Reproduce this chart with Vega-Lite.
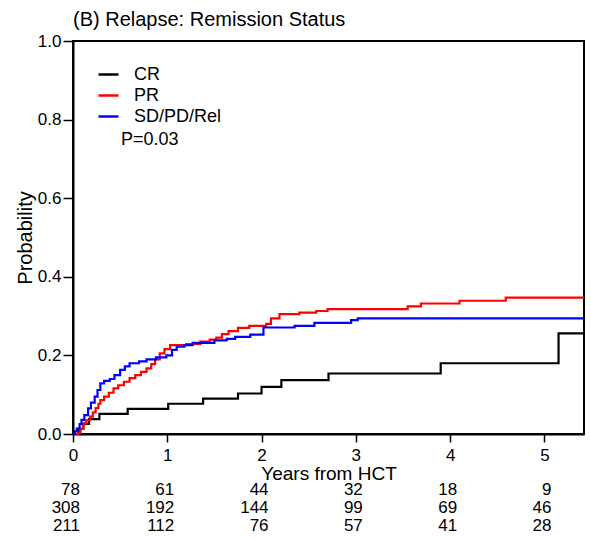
{
  "$schema": "https://vega.github.io/schema/vega-lite/v6.json",
  "width": 511,
  "height": 393,
  "autosize": {"type": "none"},
  "padding": {"left": 73, "top": 41, "right": 7, "bottom": 105},
  "background": "white",
  "config": {
    "font": "Liberation Sans",
    "view": {"stroke": "black", "strokeWidth": 2},
    "axis": {"grid": false, "domainColor": "black", "domainWidth": 2, "tickColor": "black", "tickWidth": 1.5, "labelColor": "black", "titleColor": "black", "titleFontWeight": "normal", "labelFlush": false, "labelFont": "Liberation Sans", "titleFont": "Liberation Sans"}
  },
  "title": {"text": "(B) Relapse: Remission Status", "anchor": "start", "frame": "group", "fontSize": 20, "fontWeight": "normal", "color": "black", "offset": 2, "font": "Liberation Sans"},
  "datasets": {
    "curves": [
      {"status": "CR", "time": 0, "prob": 0},
      {"status": "CR", "time": 0.06, "prob": 0.013},
      {"status": "CR", "time": 0.11, "prob": 0.026},
      {"status": "CR", "time": 0.17, "prob": 0.038},
      {"status": "CR", "time": 0.28, "prob": 0.051},
      {"status": "CR", "time": 0.58, "prob": 0.064},
      {"status": "CR", "time": 1.01, "prob": 0.077},
      {"status": "CR", "time": 1.38, "prob": 0.09},
      {"status": "CR", "time": 1.75, "prob": 0.103},
      {"status": "CR", "time": 2.0, "prob": 0.12},
      {"status": "CR", "time": 2.21, "prob": 0.137},
      {"status": "CR", "time": 2.71, "prob": 0.154},
      {"status": "CR", "time": 3.9, "prob": 0.18},
      {"status": "CR", "time": 5.15, "prob": 0.256},
      {"status": "CR", "time": 5.42, "prob": 0.256},
      {"status": "PR", "time": 0, "prob": 0},
      {"status": "PR", "time": 0.05, "prob": 0.003},
      {"status": "PR", "time": 0.08, "prob": 0.013},
      {"status": "PR", "time": 0.11, "prob": 0.027},
      {"status": "PR", "time": 0.14, "prob": 0.035},
      {"status": "PR", "time": 0.18, "prob": 0.044},
      {"status": "PR", "time": 0.21, "prob": 0.055},
      {"status": "PR", "time": 0.24, "prob": 0.066},
      {"status": "PR", "time": 0.27, "prob": 0.077},
      {"status": "PR", "time": 0.29, "prob": 0.086},
      {"status": "PR", "time": 0.33, "prob": 0.095},
      {"status": "PR", "time": 0.38, "prob": 0.105},
      {"status": "PR", "time": 0.43, "prob": 0.116},
      {"status": "PR", "time": 0.48, "prob": 0.124},
      {"status": "PR", "time": 0.54, "prob": 0.133},
      {"status": "PR", "time": 0.6, "prob": 0.142},
      {"status": "PR", "time": 0.66, "prob": 0.15},
      {"status": "PR", "time": 0.72, "prob": 0.158},
      {"status": "PR", "time": 0.78, "prob": 0.167},
      {"status": "PR", "time": 0.83, "prob": 0.178},
      {"status": "PR", "time": 0.87, "prob": 0.19},
      {"status": "PR", "time": 0.92, "prob": 0.205},
      {"status": "PR", "time": 0.97, "prob": 0.216},
      {"status": "PR", "time": 1.03, "prob": 0.226},
      {"status": "PR", "time": 1.2, "prob": 0.229},
      {"status": "PR", "time": 1.35, "prob": 0.235},
      {"status": "PR", "time": 1.45, "prob": 0.24},
      {"status": "PR", "time": 1.52, "prob": 0.245},
      {"status": "PR", "time": 1.58, "prob": 0.254},
      {"status": "PR", "time": 1.65, "prob": 0.262},
      {"status": "PR", "time": 1.75, "prob": 0.27},
      {"status": "PR", "time": 1.87, "prob": 0.275},
      {"status": "PR", "time": 2.05, "prob": 0.28},
      {"status": "PR", "time": 2.1, "prob": 0.294},
      {"status": "PR", "time": 2.19, "prob": 0.305},
      {"status": "PR", "time": 2.4, "prob": 0.309},
      {"status": "PR", "time": 2.58, "prob": 0.313},
      {"status": "PR", "time": 2.7, "prob": 0.318},
      {"status": "PR", "time": 3.55, "prob": 0.325},
      {"status": "PR", "time": 3.69, "prob": 0.332},
      {"status": "PR", "time": 4.1, "prob": 0.339},
      {"status": "PR", "time": 4.59, "prob": 0.347},
      {"status": "PR", "time": 5.42, "prob": 0.347},
      {"status": "SD/PD/Rel", "time": 0, "prob": 0},
      {"status": "SD/PD/Rel", "time": 0.02, "prob": 0.007},
      {"status": "SD/PD/Rel", "time": 0.04, "prob": 0.014},
      {"status": "SD/PD/Rel", "time": 0.07, "prob": 0.025},
      {"status": "SD/PD/Rel", "time": 0.09, "prob": 0.036},
      {"status": "SD/PD/Rel", "time": 0.12, "prob": 0.048},
      {"status": "SD/PD/Rel", "time": 0.16, "prob": 0.065},
      {"status": "SD/PD/Rel", "time": 0.19, "prob": 0.08},
      {"status": "SD/PD/Rel", "time": 0.23, "prob": 0.095},
      {"status": "SD/PD/Rel", "time": 0.26, "prob": 0.112},
      {"status": "SD/PD/Rel", "time": 0.29, "prob": 0.129},
      {"status": "SD/PD/Rel", "time": 0.33, "prob": 0.135},
      {"status": "SD/PD/Rel", "time": 0.39, "prob": 0.14},
      {"status": "SD/PD/Rel", "time": 0.44, "prob": 0.15},
      {"status": "SD/PD/Rel", "time": 0.5, "prob": 0.163},
      {"status": "SD/PD/Rel", "time": 0.55, "prob": 0.172},
      {"status": "SD/PD/Rel", "time": 0.6, "prob": 0.18},
      {"status": "SD/PD/Rel", "time": 0.7, "prob": 0.185},
      {"status": "SD/PD/Rel", "time": 0.78, "prob": 0.19},
      {"status": "SD/PD/Rel", "time": 0.88, "prob": 0.195},
      {"status": "SD/PD/Rel", "time": 0.99, "prob": 0.2},
      {"status": "SD/PD/Rel", "time": 1.05, "prob": 0.214},
      {"status": "SD/PD/Rel", "time": 1.1, "prob": 0.222},
      {"status": "SD/PD/Rel", "time": 1.18, "prob": 0.226},
      {"status": "SD/PD/Rel", "time": 1.27, "prob": 0.232},
      {"status": "SD/PD/Rel", "time": 1.5, "prob": 0.238},
      {"status": "SD/PD/Rel", "time": 1.63, "prob": 0.242},
      {"status": "SD/PD/Rel", "time": 1.72, "prob": 0.247},
      {"status": "SD/PD/Rel", "time": 1.88, "prob": 0.253},
      {"status": "SD/PD/Rel", "time": 2.02, "prob": 0.271},
      {"status": "SD/PD/Rel", "time": 2.35, "prob": 0.275},
      {"status": "SD/PD/Rel", "time": 2.56, "prob": 0.283},
      {"status": "SD/PD/Rel", "time": 2.95, "prob": 0.29},
      {"status": "SD/PD/Rel", "time": 3.02, "prob": 0.294},
      {"status": "SD/PD/Rel", "time": 5.42, "prob": 0.294}
    ],
    "risk": [
      {"status": "CR", "time": 0, "n": 78},
      {"status": "CR", "time": 1, "n": 61},
      {"status": "CR", "time": 2, "n": 44},
      {"status": "CR", "time": 3, "n": 32},
      {"status": "CR", "time": 4, "n": 18},
      {"status": "CR", "time": 5, "n": 9},
      {"status": "PR", "time": 0, "n": 308},
      {"status": "PR", "time": 1, "n": 192},
      {"status": "PR", "time": 2, "n": 144},
      {"status": "PR", "time": 3, "n": 99},
      {"status": "PR", "time": 4, "n": 69},
      {"status": "PR", "time": 5, "n": 46},
      {"status": "SD/PD/Rel", "time": 0, "n": 211},
      {"status": "SD/PD/Rel", "time": 1, "n": 112},
      {"status": "SD/PD/Rel", "time": 2, "n": 76},
      {"status": "SD/PD/Rel", "time": 3, "n": 57},
      {"status": "SD/PD/Rel", "time": 4, "n": 41},
      {"status": "SD/PD/Rel", "time": 5, "n": 28}
    ]
  },
  "layer": [
    {
      "layer": [
        {
          "data": {"name": "curves"},
          "mark": {"type": "line", "interpolate": "step-after", "strokeWidth": 2.2},
          "encoding": {
            "x": {"field": "time", "type": "quantitative", "scale": {"domain": [0, 5.42], "nice": false, "zero": false},
              "axis": {"values": [0, 1, 2, 3, 4, 5], "format": "d", "tickSize": 8, "labelPadding": 5, "labelFontSize": 17, "title": "Years from HCT", "titleFontSize": 19, "titlePadding": 1}},
            "y": {"field": "prob", "type": "quantitative", "scale": {"domain": [0, 1], "nice": false},
              "axis": {"values": [0, 0.2, 0.4, 0.6, 0.8, 1.0], "format": ".1f", "tickSize": 10, "labelPadding": 2, "labelFontSize": 17, "title": "Probability", "titleFontSize": 20, "titlePadding": 2}},
            "color": {"field": "status", "type": "nominal",
              "scale": {"domain": ["CR", "PR", "SD/PD/Rel"], "range": ["#000000", "#ff0000", "#0000ff"]},
              "legend": {"orient": "none", "legendX": 24, "legendY": 22, "title": null, "symbolType": "stroke", "symbolSize": 400, "symbolStrokeWidth": 2.5, "labelFontSize": 18, "labelOffset": 14, "rowPadding": 0, "padding": 0, "labelColor": "black", "labelFont": "Liberation Sans"}}
          }
        },
        {
          "data": {"values": [{"label": "P=0.03"}]},
          "mark": {"type": "text", "align": "left", "baseline": "middle", "fontSize": 18, "color": "black"},
          "encoding": {"x": {"datum": 0.508}, "y": {"datum": 0.747}, "text": {"field": "label", "type": "nominal"}}
        }
      ]
    },
    {
      "data": {"name": "risk"},
      "mark": {"type": "text", "align": "right", "baseline": "middle", "dx": 7, "fontSize": 17, "color": "black"},
      "encoding": {
        "x": {"field": "time", "type": "quantitative"},
        "y": {"field": "status", "type": "nominal", "scale": {"type": "point", "padding": 0, "domain": ["CR", "PR", "SD/PD/Rel"], "range": [449, 485]}, "axis": null},
        "text": {"field": "n", "type": "quantitative"}
      }
    }
  ],
  "resolve": {"scale": {"y": "independent"}}
}
